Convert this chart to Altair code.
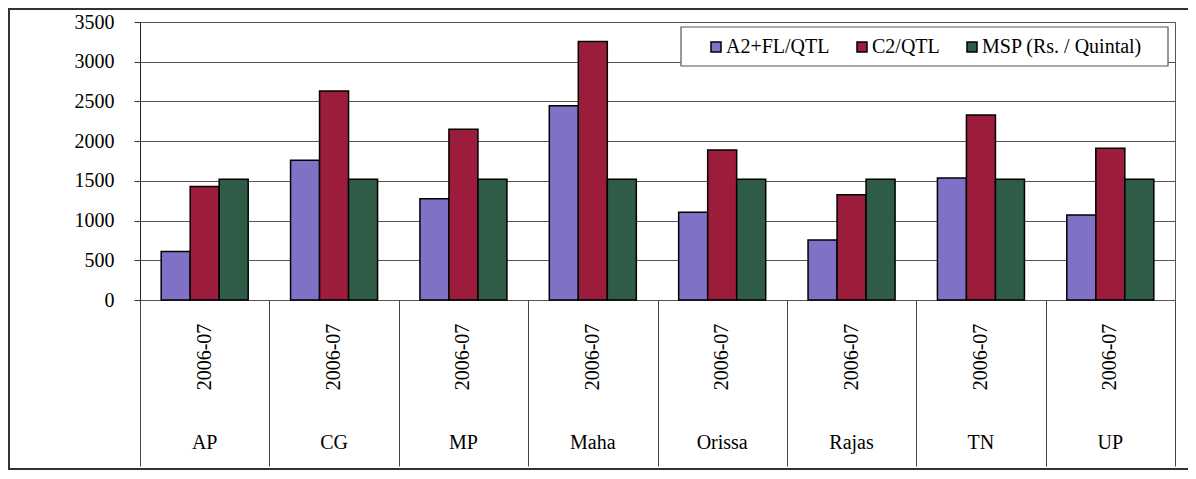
import altair as alt
import pandas as pd

states = ["AP", "CG", "MP", "Maha", "Orissa", "Rajas", "TN", "UP"]
years = ["2006-07"] * 8
series = ["A2+FL/QTL", "C2/QTL", "MSP (Rs. / Quintal)"]
a2_fl = [610, 1760, 1275, 2445, 1105, 755, 1535, 1070]
c2 = [1430, 2630, 2150, 3255, 1890, 1325, 2330, 1910]
msp = [1520, 1520, 1520, 1520, 1520, 1520, 1520, 1520]
colors = ["#8070c6", "#9c1c3c", "#2e5c46"]

rows = []
for i, s in enumerate(states):
    for name, vals in zip(series, [a2_fl, c2, msp]):
        rows.append({"state": s, "series": name, "value": vals[i], "year": years[i]})
df = pd.DataFrame(rows)
labels_df = pd.DataFrame({"state": states, "year": years})

FONT = "Liberation Serif"
W, H = 1035, 278

x_enc = alt.X("state:N", sort=states,
              scale=alt.Scale(paddingInner=0, paddingOuter=0),
              axis=alt.Axis(title=None, labels=False, tickBand="extent",
                            tickSize=166, tickColor="#444", tickWidth=1,
                            domain=False))

bars = alt.Chart(df).mark_bar(stroke="black", strokeWidth=1.5).encode(
    x=x_enc,
    xOffset=alt.XOffset("series:N", sort=series,
                        scale=alt.Scale(paddingInner=0, paddingOuter=0.73)),
    y=alt.Y("value:Q", scale=alt.Scale(domain=[0, 3500]),
            axis=alt.Axis(title=None, values=list(range(0, 3501, 500)), format="d",
                          labelFont=FONT, labelFontSize=20, labelColor="black",
                          labelPadding=20, tickSize=6, tickColor="#333",
                          domainColor="#222", gridColor="#555", gridWidth=1.2)),
    color=alt.Color("series:N", sort=series,
                    scale=alt.Scale(domain=series, range=colors),
                    legend=alt.Legend(title=None, orient="none", direction="horizontal",
                                      columns=3, legendX=566, legendY=15,
                                      labelFont=FONT, labelFontSize=20, labelColor="black",
                                      labelLimit=0,
                                      symbolType="square", symbolSize=100,
                                      symbolStrokeColor="black", symbolStrokeWidth=1.5,
                                      labelOffset=0, columnPadding=22, padding=0)),
)

one = pd.DataFrame({"k": [0]})
legend_box = alt.Chart(one).mark_rect(fill="white", stroke="#555", strokeWidth=1.2).encode(
    x=alt.value(541), x2=alt.value(1028), y=alt.value(5), y2=alt.value(44))

frame = alt.Chart(one).mark_rect(fill=None, stroke="#333", strokeWidth=2).encode(
    x=alt.value(-131), x2=alt.value(1080), y=alt.value(-13), y2=alt.value(447))

year_text = alt.Chart(labels_df).mark_text(font=FONT, fontSize=20, angle=270,
                                           align="center", baseline="middle",
                                           color="black").encode(
    x=alt.X("state:N", sort=states), y=alt.value(335), text="year:N")

state_text = alt.Chart(labels_df).mark_text(font=FONT, fontSize=20,
                                            align="center", baseline="middle",
                                            color="black").encode(
    x=alt.X("state:N", sort=states), y=alt.value(421), text="state:N")

chart = alt.layer(bars, legend_box, year_text, state_text, frame).properties(
    width=W, height=H,
    autosize=alt.AutoSizeParams(type="none"),
    padding={"left": 132, "top": 14, "right": 13, "bottom": 171},
).configure_view(stroke="#555", strokeWidth=1).configure_axis(labelFont=FONT)

chart.save("out.html", embed_options={"renderer": "svg", "actions": False})
